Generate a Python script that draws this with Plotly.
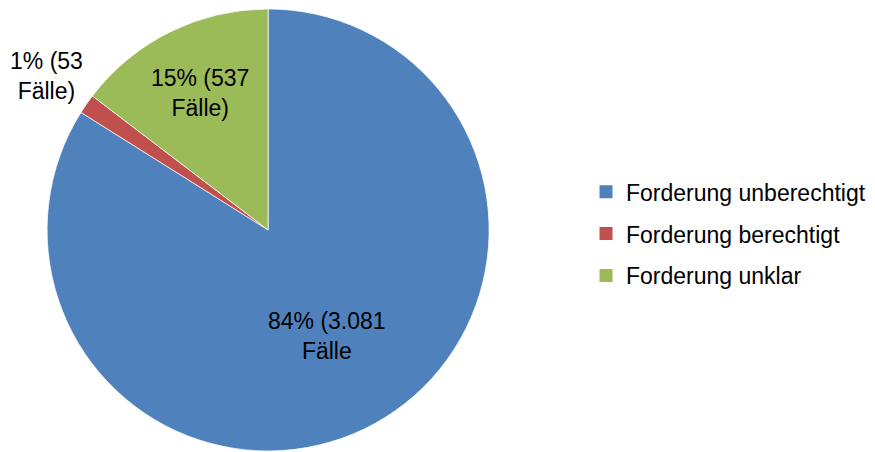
import math
import plotly.graph_objects as go

categories = ["Forderung unberechtigt", "Forderung berechtigt", "Forderung unklar"]
values = [3081, 53, 537]
slice_labels = ["84% (3.081<br>Fälle", "1% (53<br>Fälle)", "15% (537<br>Fälle)"]
colors = ["#4F81BD", "#C0504D", "#9BBB59"]

FONT = "Liberation Sans, Arial, sans-serif"
W, H = 875, 452
DOM_X = [0.0446, 0.5499]
DOM_Y = [0.0199, 0.9979]

fig = go.Figure()
fig.add_trace(go.Pie(
    labels=categories,
    values=values,
    text=slice_labels,
    textinfo="text",
    textposition=["none", "none", "inside"],
    insidetextorientation="horizontal",
    sort=False,
    direction="clockwise",
    rotation=0,
    marker=dict(colors=colors, line=dict(color="white", width=0.75)),
    textfont=dict(family=FONT, size=23, color="black"),
    showlegend=False,
    domain=dict(x=DOM_X, y=DOM_Y),
    hoverinfo="label+value+percent",
))

# labels for the large and the small slice, placed along each slice's bisector
total = sum(values)
cx = (DOM_X[0] + DOM_X[1]) / 2 * W
cy = (DOM_Y[0] + DOM_Y[1]) / 2 * H
r = min((DOM_X[1] - DOM_X[0]) * W, (DOM_Y[1] - DOM_Y[0]) * H) / 2
cum = 0
for i, v in enumerate(values):
    mid = (cum + v / 2) / total * 2 * math.pi  # clockwise from 12 o'clock
    cum += v
    factor = {0: 0.55, 1: 1.22}.get(i)
    if factor is None:
        continue
    lx = cx + factor * r * math.sin(mid)
    ly = cy + factor * r * math.cos(mid)
    fig.add_annotation(
        x=lx / W, y=ly / H, xref="paper", yref="paper",
        text=slice_labels[i], showarrow=False, align="center",
        xanchor="center", yanchor="middle",
        font=dict(family=FONT, size=23, color="black"),
    )

for i, (name, col) in enumerate(zip(categories, colors)):
    fig.add_trace(go.Scatter(
        x=[None], y=[None], mode="markers", name=name,
        marker=dict(symbol="square", size=13, color=col),
        legendgroup=f"g{i}", showlegend=True,
    ))

fig.update_layout(
    width=W, height=H,
    margin=dict(l=0, r=0, t=0, b=0, autoexpand=False),
    paper_bgcolor="white", plot_bgcolor="white",
    xaxis=dict(visible=False), yaxis=dict(visible=False),
    legend=dict(
        xref="container", yref="container",
        x=0.6606, y=0.5006, xanchor="left", yanchor="middle",
        font=dict(family=FONT, size=23, color="black"),
        tracegroupgap=9, traceorder="grouped",
        bgcolor="rgba(0,0,0,0)",
    ),
    font=dict(family=FONT),
)

fig.write_html("out.html")
